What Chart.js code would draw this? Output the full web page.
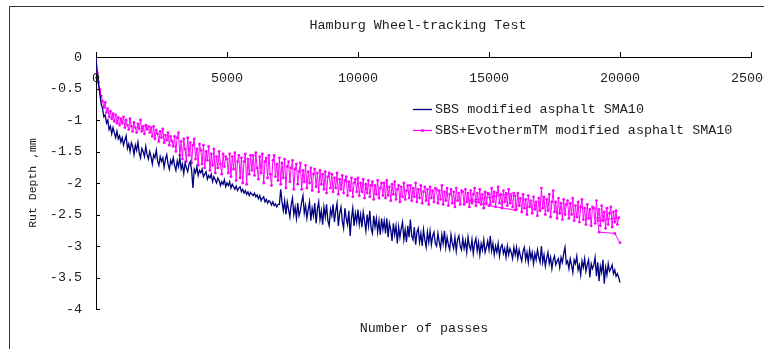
<!DOCTYPE html>
<html>
<head>
<meta charset="utf-8">
<script src="https://cdn.jsdelivr.net/npm/chart.js@4.4.0/dist/chart.umd.min.js"></script>
<style>
  html, body { margin: 0; padding: 0; background: #fff; }
  canvas { display: block; }
</style>
</head>
<body>
<canvas id="rut-chart" width="764" height="349"></canvas>
<script>
// Hamburg wheel-tracking test, rut depth
const chartTitle = 'Hamburg Wheel-tracking Test';
const xTitle = 'Number of passes';
const yTitle = 'Rut Depth ,mm';
const seriesNames = ['SBS modified asphalt SMA10', 'SBS+EvothermTM modified asphalt SMA10'];
const xTicks = [0, 5000, 10000, 15000, 20000, 25000];
const yTicks = [0, -0.5, -1, -1.5, -2, -2.5, -3, -3.5, -4];

// one reading every 50 passes, one row = 1000 passes
const passStep = 50;

// SBS, 0 .. 20000 passes
const sbsDepth = [
  0, -0.3, -0.45, -0.6, -0.75, -0.82, -0.95, -0.92, -1.05, -1.0, -1.15, -1.1, -1.22, -1.12, -1.2, -1.28, -1.18, -1.3, -1.25, -1.35,
  -1.28, -1.4, -1.32, -1.25, -1.45, -1.38, -1.5, -1.36, -1.42, -1.55, -1.4, -1.48, -1.35, -1.52, -1.6, -1.45, -1.5, -1.58, -1.42, -1.55,
  -1.62, -1.5, -1.58, -1.7, -1.55, -1.6, -1.48, -1.65, -1.72, -1.58, -1.66, -1.6, -1.75, -1.62, -1.55, -1.7, -1.78, -1.64, -1.7, -1.6,
  -1.72, -1.8, -1.65, -1.74, -1.6, -1.78, -1.7, -1.85, -1.68, -1.76, -1.82, -1.7, -1.66, -1.8, -2.08, -1.78, -1.84, -1.74, -1.88, -1.8,
  -1.84, -1.78, -1.9, -1.86, -1.82, -1.94, -1.88, -1.92, -1.86, -1.98, -1.9, -1.95, -2.0, -1.92, -1.96, -2.04, -1.98, -2.02, -1.95, -2.06,
  -2.0, -2.04, -1.98, -2.08, -2.02, -2.06, -2.1, -2.05, -2.12, -2.08, -2.06, -2.14, -2.1, -2.16, -2.12, -2.18, -2.14, -2.2, -2.15, -2.18,
  -2.2, -2.16, -2.22, -2.19, -2.25, -2.2, -2.28, -2.24, -2.22, -2.3, -2.26, -2.32, -2.28, -2.3, -2.35, -2.3, -2.36, -2.33, -2.38, -2.34,
  -2.34, -2.1, -2.3, -2.44, -2.28, -2.5, -2.3, -2.42, -2.54, -2.34, -2.24, -2.5, -2.38, -2.56, -2.32, -2.52, -2.44, -2.3, -2.2, -2.48,
  -2.36, -2.56, -2.42, -2.3, -2.6, -2.4, -2.52, -2.32, -2.64, -2.42, -2.3, -2.58, -2.44, -2.66, -2.38, -2.54, -2.34, -2.6, -2.68, -2.42,
  -2.52, -2.34, -2.62, -2.44, -2.32, -2.68, -2.48, -2.38, -2.6, -2.72, -2.4, -2.56, -2.66, -2.44, -2.84, -2.56, -2.4, -2.68, -2.48, -2.62,
  -2.42, -2.66, -2.5, -2.7, -2.46, -2.6, -2.76, -2.5, -2.68, -2.44, -2.72, -2.8, -2.52, -2.7, -2.56, -2.78, -2.6, -2.82, -2.56, -2.74,
  -2.6, -2.8, -2.56, -2.86, -2.64, -2.74, -2.92, -2.64, -2.82, -2.68, -2.96, -2.7, -2.86, -2.72, -2.62, -2.9, -2.74, -2.94, -2.68, -2.86,
  -2.58, -2.84, -2.9, -2.7, -2.98, -2.78, -2.72, -2.94, -2.8, -3.0, -2.74, -2.9, -3.02, -2.78, -2.94, -2.76, -2.98, -2.84, -2.78, -2.96,
  -3.0, -2.8, -2.94, -3.04, -2.82, -2.96, -2.76, -3.02, -2.86, -2.98, -3.06, -2.82, -2.96, -3.04, -2.86, -3.08, -2.9, -2.84, -3.0, -3.06,
  -2.88, -3.04, -2.92, -3.1, -2.86, -3.0, -3.06, -2.9, -3.12, -2.96, -2.88, -3.08, -2.94, -3.14, -2.96, -3.06, -2.9, -3.1, -3.02, -2.92,
  -3.06, -2.84, -3.08, -2.96, -3.14, -3.0, -3.1, -2.96, -3.16, -3.02, -2.98, -3.12, -3.04, -3.18, -3.0, -3.14, -3.04, -3.1, -3.2, -3.02,
  -3.14, -3.02, -3.2, -3.06, -3.16, -3.24, -3.08, -3.02, -3.22, -3.1, -3.26, -3.06, -3.2, -3.1, -3.28, -3.12, -3.22, -3.06, -3.18, -3.26,
  -3.0, -3.26, -3.14, -3.32, -3.2, -3.1, -3.28, -3.18, -3.36, -3.22, -3.16, -3.3, -3.24, -3.2, -3.34, -3.18, -3.26, -3.12, -3.02, -3.28,
  -3.24, -3.36, -3.2, -3.3, -3.42, -3.22, -3.28, -3.16, -3.38, -3.3, -3.46, -3.24, -3.34, -3.2, -3.4, -3.3, -3.22, -3.5, -3.28, -3.36,
  -3.3, -3.18, -3.48, -3.26, -3.56, -3.32, -3.42, -3.22, -3.6, -3.34, -3.46, -3.28, -3.4, -3.36, -3.3, -3.44, -3.38, -3.48, -3.44, -3.5,
  -3.58
];

// SBS+Evotherm, 0 .. 19950 passes
const evoDepth = [
  0, -0.25, -0.4, -0.52, -0.62, -0.7, -0.8, -0.72, -0.88, -0.82, -0.95, -0.86, -0.98, -0.9, -1.02, -0.92, -1.05, -0.96, -1.08, -0.98,
  -1.05, -0.95, -1.12, -1.0, -1.08, -1.15, -0.98, -1.1, -1.18, -1.04, -1.12, -1.2, -1.06, -1.14, -1.0, -1.18, -1.1, -1.22, -1.08, -1.15,
  -1.1, -1.2, -1.12, -1.26, -1.1, -1.3, -1.16, -1.22, -1.34, -1.18, -1.28, -1.14, -1.36, -1.24, -1.32, -1.2, -1.4, -1.26, -1.34, -1.42,
  -1.26, -1.5, -1.28, -1.2, -1.56, -1.34, -1.62, -1.3, -1.46, -1.66, -1.28, -1.56, -1.36, -1.68, -1.4, -1.3, -1.62, -1.46, -1.72, -1.38,
  -1.48, -1.7, -1.4, -1.76, -1.5, -1.64, -1.42, -1.8, -1.54, -1.72, -1.46, -1.84, -1.58, -1.76, -1.5, -1.7, -1.86, -1.54, -1.74, -1.58,
  -1.62, -1.84, -1.54, -1.9, -1.58, -1.78, -1.52, -1.96, -1.66, -1.56, -1.92, -1.6, -2.0, -1.66, -1.54, -2.02, -1.62, -1.86, -1.56, -1.8,
  -1.56, -1.88, -1.52, -1.76, -1.94, -1.58, -1.84, -1.54, -2.0, -1.66, -1.6, -1.92, -1.56, -1.86, -2.04, -1.64, -1.56, -1.9, -1.7, -1.96,
  -1.6, -2.02, -1.68, -1.92, -1.62, -2.08, -1.74, -1.66, -1.98, -1.76, -1.64, -2.1, -1.78, -1.7, -2.02, -1.82, -1.68, -2.1, -1.8, -1.98,
  -1.72, -2.08, -1.82, -2.0, -1.76, -2.12, -1.86, -1.78, -2.06, -1.84, -2.14, -1.8, -2.02, -1.86, -2.1, -1.82, -2.16, -1.9, -1.84, -2.08,
  -1.86, -2.14, -1.92, -2.08, -1.84, -2.18, -1.94, -2.1, -1.88, -2.16, -1.96, -1.9, -2.2, -1.98, -2.12, -1.92, -2.22, -2.0, -1.94, -2.14,
  -1.92, -2.2, -2.0, -2.14, -1.94, -2.24, -2.02, -2.16, -1.96, -2.22, -2.04, -1.98, -2.26, -2.04, -2.18, -1.96, -2.24, -2.08, -2.0, -2.2,
  -2.0, -2.24, -1.96, -2.2, -2.06, -2.28, -2.02, -2.18, -1.98, -2.26, -2.1, -2.04, -2.3, -2.06, -2.22, -2.0, -2.26, -2.12, -2.04, -2.24,
  -2.04, -2.28, -2.08, -2.22, -2.0, -2.3, -2.1, -2.24, -2.04, -2.32, -2.14, -2.06, -2.28, -2.1, -2.34, -2.06, -2.24, -2.12, -2.3, -2.08,
  -2.1, -2.32, -2.12, -2.26, -2.04, -2.34, -2.14, -2.28, -2.08, -2.36, -2.18, -2.1, -2.32, -2.14, -2.38, -2.08, -2.28, -2.16, -2.34, -2.12,
  -2.14, -2.34, -2.1, -2.3, -2.16, -2.38, -2.12, -2.32, -2.18, -2.08, -2.36, -2.16, -2.3, -2.1, -2.34, -2.18, -2.4, -2.14, -2.32, -2.16,
  -2.18, -2.34, -2.08, -2.3, -2.14, -2.38, -2.16, -2.06, -2.32, -2.18, -2.4, -2.12, -2.3, -2.16, -2.36, -2.1, -2.32, -2.2, -2.38, -2.16,
  -2.2, -2.42, -2.16, -2.36, -2.24, -2.46, -2.18, -2.4, -2.26, -2.5, -2.2, -2.38, -2.28, -2.48, -2.22, -2.42, -2.3, -2.52, -2.24, -2.44,
  -2.08, -2.4, -2.22, -2.5, -2.26, -2.44, -2.18, -2.54, -2.3, -2.12, -2.46, -2.3, -2.56, -2.24, -2.48, -2.32, -2.58, -2.26, -2.5, -2.34,
  -2.28, -2.56, -2.32, -2.5, -2.24, -2.6, -2.36, -2.54, -2.3, -2.62, -2.38, -2.26, -2.58, -2.4, -2.66, -2.34, -2.56, -2.42, -2.68, -2.38,
  -2.4, -2.64, -2.28, -2.56, -2.42, -2.68, -2.36, -2.6, -2.46, -2.72, -2.4, -2.66, -2.48, -2.38, -2.7, -2.46, -2.62, -2.44, -2.66, -2.55
];

// out-of-order stretches of the Evotherm record (the smooth runs under the noise)
const evoLoopAfter = 15950;
const evoLoopPasses = [14300, 15000, 16000];
const evoLoopDepth = [-2.28, -2.36, -2.43];
const evoTailPasses = [19150, 19200, 19800, 20000];
const evoTailDepth = [-2.6, -2.78, -2.8, -2.95];

const sbsColor = '#000080';
const evoColor = '#ff00ff';
const textColor = '#222';
const monoFont = '"Liberation Mono", "DejaVu Sans Mono", monospace';

const toPoints = (depth) => depth.map((d, i) => ({ x: i * passStep, y: d }));
const pairPoints = (passes, depth) => passes.map((p, i) => ({ x: p, y: depth[i] }));

const sbsPoints = toPoints(sbsDepth);
const evoMain = toPoints(evoDepth);
const cut = evoMain.findIndex(pt => pt.x > evoLoopAfter);
const evoPoints = [
  ...evoMain.slice(0, cut),
  ...pairPoints(evoLoopPasses, evoLoopDepth),
  ...evoMain.slice(cut),
  ...pairPoints(evoTailPasses, evoTailDepth)
];

// Excel-style decorations: frame, title, inside ticks, x labels under the top axis, legend
const decorPlugin = {
  id: 'decor',
  beforeDraw(chart) {
    const ctx = chart.ctx;
    ctx.save();
    ctx.fillStyle = '#fff';
    ctx.fillRect(0, 0, chart.width, chart.height);
    ctx.strokeStyle = '#333';
    ctx.lineWidth = 1;
    ctx.beginPath();
    ctx.moveTo(9.5, chart.height);
    ctx.lineTo(9.5, 6.5);
    ctx.lineTo(chart.width, 6.5);
    ctx.stroke();
    ctx.restore();
  },
  afterDraw(chart) {
    const ctx = chart.ctx;
    const xs = chart.scales.x;
    const ys = chart.scales.y;
    const area = chart.chartArea;
    ctx.save();
    ctx.fillStyle = textColor;
    ctx.font = '13.4px ' + monoFont;
    ctx.textAlign = 'center';
    ctx.textBaseline = 'middle';
    ctx.fillText(chartTitle, 418, 25);
    ctx.fillText(xTitle, 424, 328);

    // x tick labels sit below the top axis
    xTicks.forEach(v => ctx.fillText(String(v), xs.getPixelForValue(v), 78));

    // y ticks point into the plot
    ctx.strokeStyle = '#000';
    ctx.lineWidth = 1;
    ctx.beginPath();
    yTicks.forEach(v => {
      const y = Math.round(ys.getPixelForValue(v)) + 0.5;
      ctx.moveTo(area.left, y);
      ctx.lineTo(area.left + 4, y);
    });
    ctx.stroke();

    // y title
    ctx.save();
    ctx.translate(33, 183);
    ctx.rotate(-Math.PI / 2);
    ctx.font = '11.5px ' + monoFont;
    ctx.fillText(yTitle, 0, 0);
    ctx.restore();

    // legend
    const rows = [
      { name: seriesNames[0], color: sbsColor, y: 109, dot: false },
      { name: seriesNames[1], color: evoColor, y: 130, dot: true }
    ];
    ctx.textAlign = 'left';
    ctx.font = '13.4px ' + monoFont;
    rows.forEach(r => {
      ctx.strokeStyle = r.color;
      ctx.lineWidth = 1.3;
      ctx.beginPath();
      ctx.moveTo(413, r.y + 0.5);
      ctx.lineTo(432, r.y + 0.5);
      ctx.stroke();
      if (r.dot) {
        ctx.fillStyle = r.color;
        ctx.beginPath();
        ctx.arc(422.5, r.y + 0.5, 1.6, 0, Math.PI * 2);
        ctx.fill();
      }
      ctx.fillStyle = textColor;
      ctx.fillText(r.name, 435, r.y);
    });
    ctx.restore();
  }
};

new Chart(document.getElementById('rut-chart'), {
  type: 'line',
  data: {
    datasets: [
      {
        label: seriesNames[0],
        data: sbsPoints,
        borderColor: sbsColor,
        borderWidth: 1.3,
        pointRadius: 0,
        tension: 0
      },
      {
        label: seriesNames[1],
        data: evoPoints,
        borderColor: evoColor,
        backgroundColor: evoColor,
        borderWidth: 1,
        pointRadius: 1.4,
        pointBorderWidth: 0,
        pointBackgroundColor: evoColor,
        tension: 0
      }
    ]
  },
  options: {
    responsive: false,
    animation: false,
    layout: { padding: { top: 51, left: 10, right: 13, bottom: 40 } },
    plugins: {
      legend: { display: false },
      title: { display: false },
      tooltip: { enabled: false }
    },
    scales: {
      x: {
        type: 'linear',
        position: 'top',
        min: 0,
        max: 25000,
        afterBuildTicks: s => { s.ticks = xTicks.map(v => ({ value: v })); },
        afterFit: s => { s.height = 6; },
        ticks: { display: false },
        grid: { drawOnChartArea: false, drawTicks: true, tickLength: 5, color: '#000' },
        border: { color: '#000', width: 1 }
      },
      y: {
        min: -4,
        max: 0,
        afterBuildTicks: s => { s.ticks = yTicks.map(v => ({ value: v })); },
        afterFit: s => { s.width = 86; },
        ticks: {
          color: textColor,
          padding: 14,
          font: { family: monoFont, size: 13.4 },
          callback: v => String(v)
        },
        grid: { drawOnChartArea: false, drawTicks: false },
        border: { color: '#000', width: 1 }
      }
    }
  },
  plugins: [decorPlugin]
});
</script>
</body>
</html>
